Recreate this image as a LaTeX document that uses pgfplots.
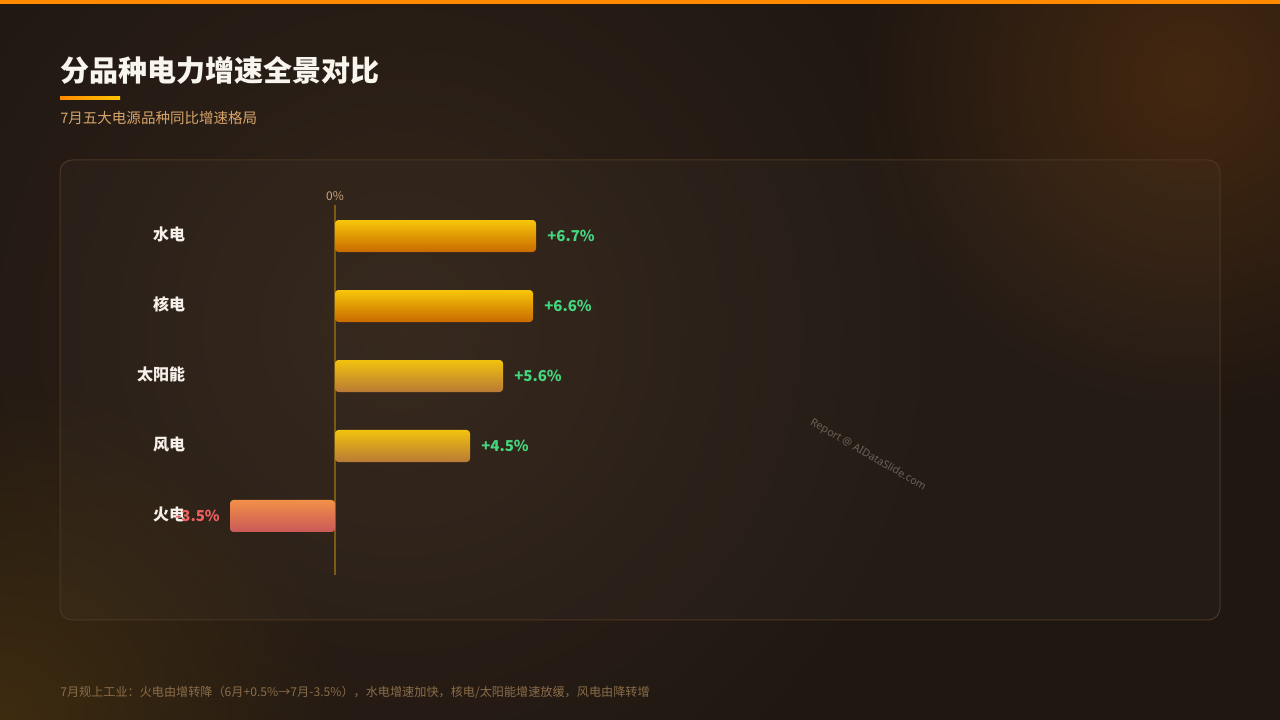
\documentclass[border=0pt]{standalone}
\usepackage{fontspec}
\setmainfont{Noto Sans CJK SC}
\newfontfamily\numfont{Noto Sans}
\usepackage{pgfplots}
\pgfplotsset{compat=1.18}
\usetikzlibrary{fadings}
\tikzfading[name=glowfade, inner color=transparent!0, outer color=transparent!100]

\definecolor{bgbase}{HTML}{1F1712}
\definecolor{glowA}{HTML}{442810}
\definecolor{glowB}{HTML}{3E2C10}
\definecolor{glowC}{HTML}{33251A}
\definecolor{barTop}{HTML}{FF8A00}
\definecolor{barMid}{HTML}{FFC400}
\definecolor{cardline}{HTML}{4A3622}
\definecolor{titlecol}{HTML}{F8F4EE}
\definecolor{subcol}{HTML}{D6A46A}
\definecolor{footcol}{HTML}{8A6C48}
\definecolor{catcol}{HTML}{F5F0EA}
\definecolor{zerocol}{HTML}{7A5C14}
\definecolor{zerotxt}{HTML}{C9A37A}
\definecolor{valgreen}{HTML}{45D67E}
\definecolor{valred}{HTML}{F06060}
\definecolor{yTopA}{HTML}{F7C60A}
\definecolor{yBotA}{HTML}{C86A00}
\definecolor{yTopB}{HTML}{F2C20E}
\definecolor{yBotB}{HTML}{B87A35}
\definecolor{rTop}{HTML}{F39048}
\definecolor{rBot}{HTML}{C85858}
\definecolor{wmark}{HTML}{6B625A}

\begin{document}
\begin{tikzpicture}
  % decorations: 1 unit = 1 px of the reference
  \begin{scope}[x=0.75pt,y=0.75pt]
  \useasboundingbox (0,0) rectangle (1280,720);
  \fill[bgbase] (0,0) rectangle (1280,720);
  \begin{scope}
    \clip (0,0) rectangle (1280,720);
    \fill[glowC, path fading=glowfade] (400,720-330) circle (560);
    \fill[glowA, path fading=glowfade] (1190,720-80) circle (340);
    \fill[glowB, path fading=glowfade] (0,0) circle (340);
  \end{scope}
  \shade[left color=barTop, middle color=barMid, right color=barTop] (0,716) rectangle (1280,720);

  % title block
  \node[anchor=west, inner sep=0pt, text=titlecol, font=\bfseries\fontsize{21.75}{26}\selectfont] at (60,720-70) {分品种电力增速全景对比};
  \shade[left color=barTop, right color=barMid] (60,720-96.5) rectangle (120,720-99.5);
  \node[anchor=west, inner sep=0pt, text=subcol, font=\fontsize{10.9}{13}\selectfont] at (60,720-118) {7月五大电源品种同比增速格局};

  % card
  \draw[rounded corners=9pt, draw=cardline, line width=0.75pt, fill=white, fill opacity=0.02] (60,720-160) rectangle (1220,720-620);

  % watermark and footer
  \node[rotate=-30, text=wmark, font=\numfont\fontsize{8}{10}\selectfont] at (868,720-455) {Report @ AIDataSlide.com};
  \node[anchor=west, inner sep=0pt, text=footcol, font=\fontsize{9.1}{11}\selectfont] at (60,720-692) {7月规上工业：火电由增转降（6月+0.5\%→7月-3.5\%），水电增速加快，核电/太阳能增速放缓，风电由降转增};
  \end{scope}

  % chart: axis spans x px 215..575 and y px 205..575
  \begin{axis}[
    at={(161.25pt,386.25pt)}, anchor=north west,
    scale only axis, width=270pt, height=277.5pt,
    xbar, bar shift=0pt, bar width=24pt,
    xmin=-4, xmax=8, ymin=-0.443, ymax=4.843, y dir=reverse,
    axis line style={draw=none}, tick style={draw=none},
    xtick=\empty, ytick={0,1,2,3,4},
    yticklabels={水电,核电,太阳能,风电,火电},
    yticklabel style={font=\bfseries\fontsize{12}{14}\selectfont, text=catcol, anchor=east, inner sep=0pt, xshift=-18pt, yshift=1pt},
    point meta=x,
    nodes near coords={\pgfmathprintnumber[showpos,fixed,fixed zerofill,precision=1]{\pgfplotspointmeta}\%},
    /pgf/number format/assume math mode=true,
    nodes near coords style={font=\bfseries\fontsize{11.25}{13}\selectfont, inner sep=0pt},
    posbar/.style={draw=none, rounded corners=2.5pt,
      every node near coord/.append style={anchor=west, text=valgreen, xshift=8.25pt}},
    clip=false,
  ]
    \draw[zerocol, line width=1.1pt] (axis cs:0,-0.443) -- (axis cs:0,4.843);
    \node[anchor=south, inner sep=0pt, text=zerotxt, font=\fontsize{9}{11}\selectfont] at (axis cs:0,-0.5) {0\%};
    \addplot[posbar, top color=yTopA, bottom color=yBotA] coordinates {(6.7,0)};
    \addplot[posbar, top color=yTopA, bottom color=yBotA] coordinates {(6.6,1)};
    \addplot[posbar, top color=yTopB, bottom color=yBotB] coordinates {(5.6,2)};
    \addplot[posbar, top color=yTopB, bottom color=yBotB] coordinates {(4.5,3)};
    \addplot[draw=none, rounded corners=2.5pt, top color=rTop, bottom color=rBot,
      every node near coord/.append style={anchor=east, text=valred, xshift=-7.5pt}] coordinates {(-3.5,4)};
  \end{axis}
\end{tikzpicture}
\end{document}
